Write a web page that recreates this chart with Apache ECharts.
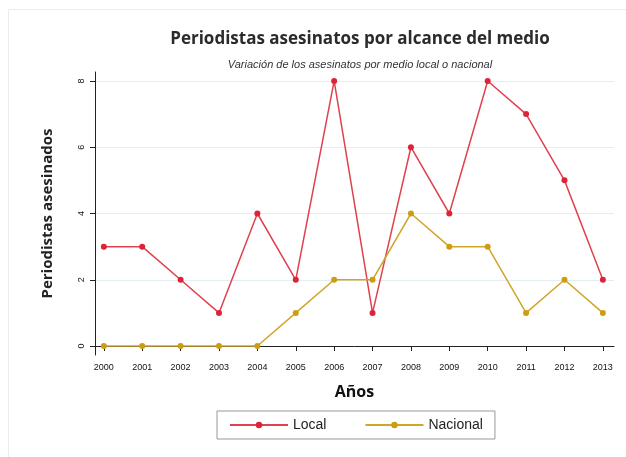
<!DOCTYPE html>
<html>
<head>
<meta charset="utf-8">
<script src="https://cdn.jsdelivr.net/npm/echarts@6.0.0/dist/echarts.min.js"></script>
<style>
  html, body { margin: 0; padding: 0; background: #fff; }
  #main { width: 626px; height: 457px; }
</style>
</head>
<body>
<div id="main"></div>
<script>
// datos
var years = [2000, 2001, 2002, 2003, 2004, 2005, 2006, 2007, 2008, 2009, 2010, 2011, 2012, 2013];
var local = [3, 3, 2, 1, 4, 2, 8, 1, 6, 4, 8, 7, 5, 2];
var nacional = [0, 0, 0, 0, 0, 1, 2, 2, 4, 3, 3, 1, 2, 1];
var yTicks = [0, 2, 4, 6, 8];

var chart = echarts.init(document.getElementById('main'));

function pairs(vals) {
    return years.map(function (y, i) { return [y, vals[i]]; });
}

var option = {
    animation: false,
    textStyle: { fontFamily: 'Liberation Sans, Arial, sans-serif' },
    title: [
        {
            text: 'Periodistas asesinatos por alcance del medio',
            left: 355, top: 26, textAlign: 'center',
            textStyle: { fontSize: 17, fontWeight: 'bold', color: '#2b2b2b', fontFamily: 'Open Sans, sans-serif' }
        },
        {
            text: 'Variación de los asesinatos por medio local o nacional',
            left: 355, top: 54, textAlign: 'center',
            textStyle: { fontSize: 11, fontStyle: 'italic', fontWeight: 'normal', color: '#333' }
        }
    ],
    graphic: [{
        type: 'rect', silent: true,
        shape: { x: 8.5, y: 9.5, width: 640, height: 460 },
        style: { fill: 'none', stroke: '#ececec', lineWidth: 1 }
    }],
    grid: { left: 95, right: 12, top: 72, bottom: 102 },
    legend: {
        left: 217, top: 411, width: 276, height: 30,
        padding: [7, 12, 7, 12],
        borderColor: '#999', borderWidth: 1,
        itemWidth: 58, itemHeight: 8, itemGap: 38,
        textStyle: { fontSize: 14, color: '#222' },
        data: ['Local', 'Nacional']
    },
    xAxis: {
        type: 'value', min: 1999.77, max: 2013.29,
        name: 'Años', nameLocation: 'middle', nameGap: 29,
        nameTextStyle: { fontSize: 16, fontWeight: 'bold', color: '#111', fontFamily: 'Open Sans, sans-serif' },
        axisLine: { lineStyle: { color: '#222', width: 1 } },
        axisTick: { show: true, length: 5, customValues: years, lineStyle: { color: '#222' } },
        axisLabel: { customValues: years, fontSize: 9, color: '#111', margin: 8, formatter: function (v) { return String(v); } },
        splitLine: { show: false }
    },
    yAxis: {
        type: 'value', min: -0.27, max: 8.27,
        name: 'Periodistas asesinados', nameLocation: 'middle', nameGap: 40,
        nameTextStyle: { fontSize: 15, fontWeight: 'bold', color: '#222', fontFamily: 'Open Sans, sans-serif' },
        axisLine: { show: true, lineStyle: { color: '#222', width: 1 } },
        axisTick: { show: true, length: 5, customValues: yTicks, lineStyle: { color: '#222' } },
        axisLabel: { customValues: yTicks, rotate: 90, fontSize: 9, color: '#111', margin: 9 },
        splitLine: { show: true, lineStyle: { color: '#e4eef2', width: 1 } }
    },
    series: [
        {
            name: 'Local', type: 'line', data: pairs(local),
            symbol: 'circle', symbolSize: 6,
            itemStyle: { color: '#dc2337' },
            lineStyle: { color: '#e0414f', width: 1.5 }
        },
        {
            name: 'Nacional', type: 'line', data: pairs(nacional),
            symbol: 'circle', symbolSize: 6,
            itemStyle: { color: '#cc9d12' },
            lineStyle: { color: '#d1a52a', width: 1.5 }
        }
    ]
};
chart.setOption(option);
</script>
</body>
</html>
